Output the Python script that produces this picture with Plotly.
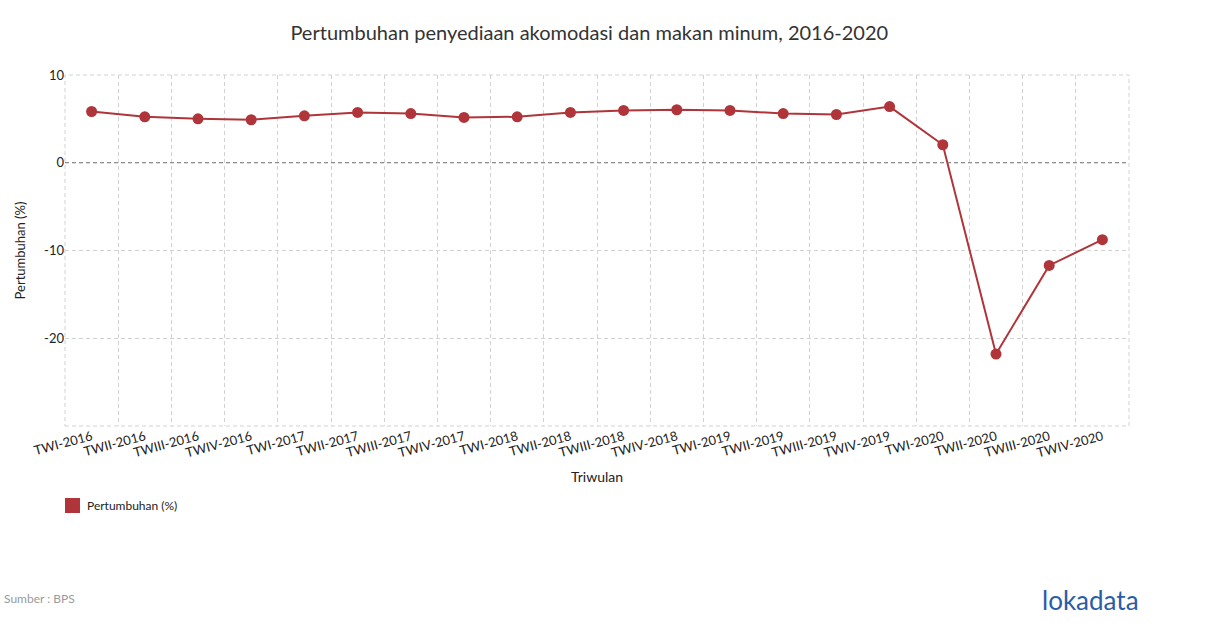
import plotly.graph_objects as go

categories = ["TWI-2016", "TWII-2016", "TWIII-2016", "TWIV-2016",
              "TWI-2017", "TWII-2017", "TWIII-2017", "TWIV-2017",
              "TWI-2018", "TWII-2018", "TWIII-2018", "TWIV-2018",
              "TWI-2019", "TWII-2019", "TWIII-2019", "TWIV-2019",
              "TWI-2020", "TWII-2020", "TWIII-2020", "TWIV-2020"]
growth = [5.84, 5.24, 5.01, 4.9, 5.35, 5.73, 5.6, 5.16, 5.24, 5.73,
          5.96, 6.04, 5.96, 5.6, 5.5, 6.4, 2.05, -21.8, -11.7, -8.77]

y_tickvals = [-30, -20, -10, 0, 10]
y_ticktext = ["", "-20", "-10", "0", "10"]

series_name = "Pertumbuhan (%)"
color = "#b0353a"
grid = "#d2d2d2"
font = "Lato, 'Open Sans', sans-serif"

fig = go.Figure()
fig.add_trace(go.Scatter(
    x=categories, y=growth, mode="lines+markers",
    line=dict(color=color, width=2),
    marker=dict(color=color, size=11),
    showlegend=False, name=series_name,
))

# plot-area border drawn as dashed grid (edges are not drawn by gridlines)
fig.add_shape(type="rect", xref="paper", yref="paper", x0=0, x1=1, y0=0, y1=1,
              line=dict(color=grid, width=1, dash="4px,3px"), layer="below")
# dashed zero line
fig.add_shape(type="line", xref="paper", yref="y", x0=0, x1=1, y0=0, y1=0,
              line=dict(color="#777777", width=1, dash="4px,3px"), layer="above")
# legend swatch
fig.add_shape(type="rect", xref="paper", yref="paper",
              x0=0.0, x1=15 / 1064, y0=-(498 - 426) / 351, y1=-(513 - 426) / 351,
              fillcolor=color, line=dict(width=0))

fig.update_layout(
    width=1210, height=628,
    margin=dict(l=65, r=81, t=75, b=202),
    paper_bgcolor="white", plot_bgcolor="white",
    font=dict(family=font, color="#222222", size=13),
    showlegend=False,
    title=dict(text="Pertumbuhan penyediaan akomodasi dan makan minum, 2016-2020",
               x=0.487, xanchor="center", y=0.948, yanchor="middle",
               font=dict(size=20, color="#333333")),
    xaxis=dict(
        type="category", tickson="boundaries", tickangle=-15,
        showgrid=True, gridcolor=grid, griddash="4px,3px", gridwidth=1,
        showline=False, zeroline=False, ticks="",
        tickfont=dict(size=13, color="#222222"),
        title=dict(text="Triwulan", font=dict(size=14, color="#222222"), standoff=12),
        range=[-0.5, 19.5],
    ),
    yaxis=dict(
        range=[-30, 10], tickvals=y_tickvals, ticktext=y_ticktext,
        showgrid=True, gridcolor=grid, griddash="4px,3px", gridwidth=1,
        zeroline=False, showline=False, ticks="",
        tickfont=dict(size=13, color="#222222"),
        title=dict(text="Pertumbuhan (%)", font=dict(size=13, color="#222222"), standoff=15),
    ),
    annotations=[
        dict(text=series_name, xref="paper", yref="paper", x=20 / 1064, xanchor="left",
             y=-(505.5 - 426) / 351, yanchor="middle", showarrow=False,
             font=dict(size=12, color="#222222")),
        dict(text="Sumber : BPS", xref="paper", yref="paper", x=-0.0588, xanchor="left",
             y=-0.492, yanchor="middle", showarrow=False,
             font=dict(size=12, color="#9a9a9a")),
        dict(text="lokadata", xref="paper", yref="paper", x=1.0115, xanchor="right",
             y=-0.497, yanchor="middle", showarrow=False,
             font=dict(size=26, color="#2a5ca8", family="Lato, sans-serif")),
    ],
)

fig.write_html("out.html")
